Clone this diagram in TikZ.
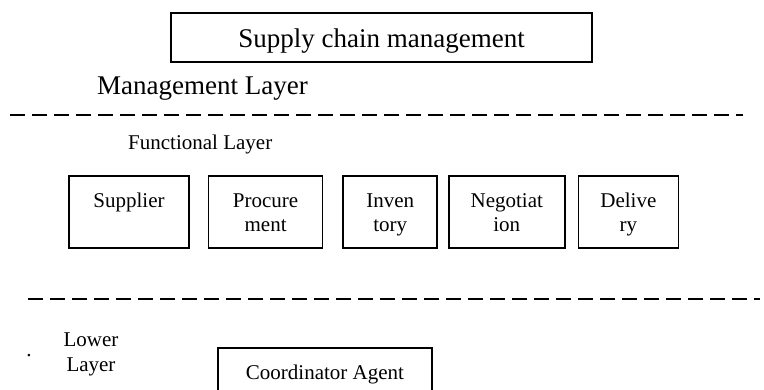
\documentclass[tikz,border=0pt]{standalone}
\usepackage{fontspec}
\setmainfont{Liberation Serif}
\usetikzlibrary{positioning}

\newcommand{\boxlines}[1]{\begin{tabular}{@{}c@{}}\rule{0pt}{22.8pt}#1\rule[-7.2pt]{0pt}{7.2pt}\end{tabular}}

\begin{document}
\begin{tikzpicture}[x=1pt, y=-1pt,
        box/.style={rectangle, draw, line width=1.6pt, inner sep=0pt, minimum height=72pt, font=\fontsize{21}{24}\selectfont},
        biglabel/.style={inner sep=0pt, font=\fontsize{27}{30}\selectfont},
        smalllabel/.style={inner sep=0pt, align=center, font=\fontsize{21}{25}\selectfont},
        layerline/.style={line width=1.6pt, dash pattern=on 15pt off 7pt}
    ]
    \clip (0,0) rectangle (764,390);

    % Management layer
    \node[box, minimum width=421pt, minimum height=49pt, font=\fontsize{27}{30}\selectfont, execute at begin node={\rule{0pt}{29.3pt}}, execute at end node={\rule[-9pt]{0pt}{9pt}}] (scm) at (381.5,37.5) {Supply chain management};
    \node[biglabel, anchor=base west] (mgmt) at (97,95) {Management Layer};
    \coordinate (topleft) at (10,115);
    \coordinate (topright) at (743,115);
    \draw[layerline] (topleft) -- (topright);

    % Functional layer
    \node[smalllabel, anchor=base west] (func) at (128,150) {Functional Layer};
    \node[box, minimum width=120pt] (supplier) at (129,212) {\boxlines{Supplier\\ }};
    \node[box, minimum width=114pt, right=18pt of supplier] (procure) {\boxlines{Procure\\ment}};
    \node[box, minimum width=94pt, right=19pt of procure] (inventory) {\boxlines{Inven\\tory}};
    \node[box, minimum width=116pt, right=10pt of inventory] (negotiation) {\boxlines{Negotiat\\ion}};
    \node[box, minimum width=100pt, right=12pt of negotiation] (delivery) {\boxlines{Delive\\ry}};
    \coordinate (lowleft) at (28,299);
    \coordinate (lowright) at (760,299);
    \draw[layerline] (lowleft) -- (lowright);

    % Lower layer
    \node[inner sep=0pt, anchor=base, font=\fontsize{21}{25}\selectfont] (dot) at (29,357) {.};
    \node[smalllabel] (lower) at (91,354) {Lower\\Layer};
    \node[box, minimum width=214pt, minimum height=48pt] (coord) at (325,372) {\boxlines{Coordinator Agent}};

\end{tikzpicture}
\end{document}
